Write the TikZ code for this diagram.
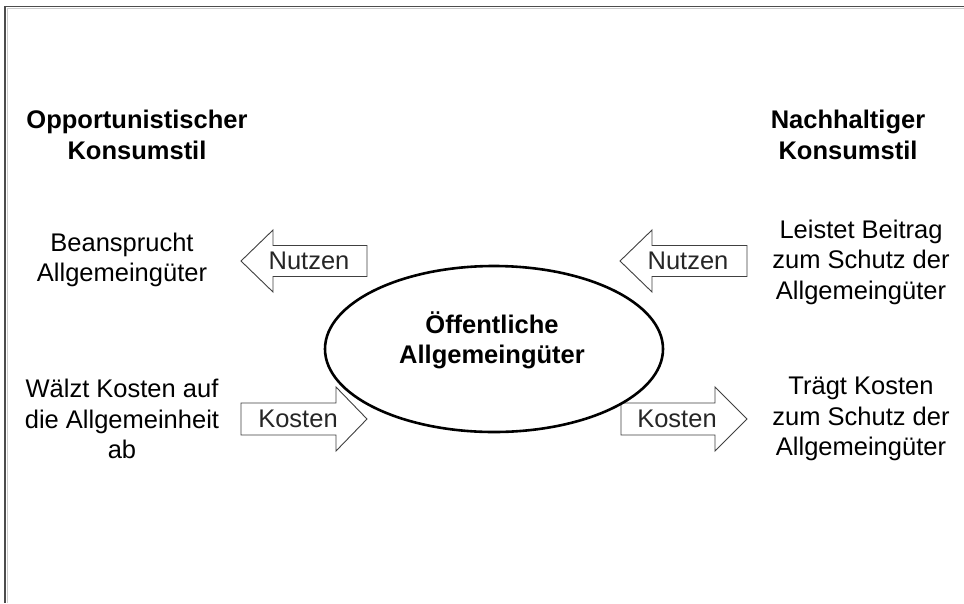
\documentclass[tikz,border=0pt]{standalone}
\usepackage{fontspec}
\setmainfont{Liberation Sans}
\usetikzlibrary{shapes.geometric}
\begin{document}
\begin{tikzpicture}[x=1pt,y=-1pt,
  label/.style={align=center,font=\fontsize{25.5}{30.5}\selectfont,text=black,inner sep=0pt},
  heading/.style={align=center,font=\fontsize{25.5}{31}\selectfont\bfseries,text=black,inner sep=0pt},
  arrowbox/.style={draw=black!75,line width=0.9pt,fill=white,line join=miter},
  arrowtext/.style={font=\fontsize{25.5}{30}\selectfont,text=black!85,inner sep=0pt},
  pool/.style={draw=black,line width=2.6pt,ellipse,minimum width=338pt,minimum height=166pt,inner sep=0pt}]
\useasboundingbox (0,0) rectangle (964,603);
\fill[white] (0,0) rectangle (964,603);

% frame around the figure
\draw[black!70,line width=1.6pt] (964,6.5) -- (5,6.5) -- (5,603);
\draw[black!20,line width=0.9pt] (964,8.6) -- (7.1,8.6) -- (7.1,603);

% column headings
\node[heading] (hleft) at (137,135) {Opportunistischer\\Konsumstil};
\node[heading] (hright) at (848,135) {Nachhaltiger\\Konsumstil};

% side descriptions
\node[label] (useL) at (122,260) {Beansprucht\\Allgemeingüter};
\node[label] (costL) at (122,419) {Wälzt Kosten auf\\die Allgemeinheit\\ab};
\node[label] (useR) at (861,262) {Leistet Beitrag\\zum Schutz der\\Allgemeingüter};
\node[label] (costR) at (861,419) {Trägt Kosten\\zum Schutz der\\Allgemeingüter};

% block arrows
\draw[arrowbox] (241,261) -- (273,230) -- (273,245.5) -- (367,245.5) -- (367,276.5) -- (273,276.5) -- (273,292) -- cycle;
\node[arrowtext] (nutzenL) at (309,261) {Nutzen};

\draw[arrowbox] (620,261) -- (652,230) -- (652,245.5) -- (747,245.5) -- (747,276.5) -- (652,276.5) -- (652,292) -- cycle;
\node[arrowtext] (nutzenR) at (688,261) {Nutzen};

\draw[arrowbox] (367,419) -- (336,387) -- (336,403) -- (241,403) -- (241,435) -- (336,435) -- (336,451) -- cycle;
\node[arrowtext] (kostenL) at (298,419) {Kosten};

\draw[arrowbox] (747,419) -- (715,387) -- (715,403) -- (621,403) -- (621,435) -- (715,435) -- (715,451) -- cycle;
\node[arrowtext] (kostenR) at (677,419) {Kosten};

% central pool of common goods, drawn over the arrow tails it touches
\node[pool] (pool) at (494,349) {};
\node[heading,font=\fontsize{25.5}{30}\selectfont\bfseries] (pooltext) at (492,340) {Öffentliche\\Allgemeingüter};
\end{tikzpicture}
\end{document}
